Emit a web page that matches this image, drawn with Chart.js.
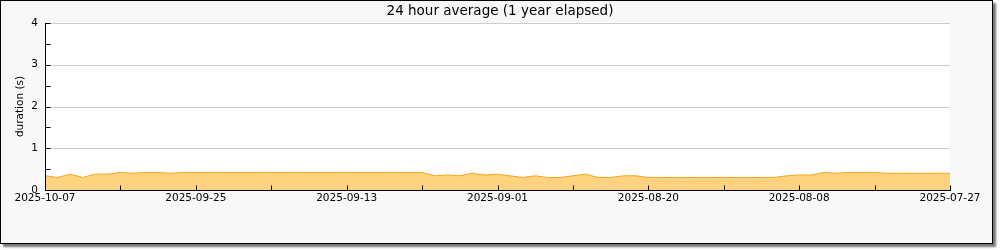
<!DOCTYPE html>
<html>
<head>
<meta charset="utf-8">
<script src="https://cdn.jsdelivr.net/npm/chart.js@4/dist/chart.umd.min.js"></script>
<style>
  body { margin: 0; background: #fff; }
  #frame {
    position: absolute; left: 0; top: 0;
    width: 991px; height: 242px;
    border: 1px solid #000;
    background: #f8f8f8;
    box-shadow: 3px 3px 2px #777;
  }
  #chart { position: absolute; left: 0; top: 0; }
</style>
</head>
<body>
<div id="frame"></div>
<canvas id="chart" width="1000" height="250"></canvas>
<script>
// days elapsed counted back from the first date (left edge)
const tickLabels = ['2025-10-07', '2025-09-25', '2025-09-13', '2025-09-01', '2025-08-20', '2025-08-08', '2025-07-27'];
const yTickLabels = ['0', '1', '2', '3', '4'];

// daily 24 hour average duration (s), one value per day
const durations = [
  0.34, 0.30, 0.38, 0.30, 0.38, 0.38, 0.42, 0.40, 0.42, 0.42,
  0.40, 0.42, 0.42, 0.42, 0.42, 0.42, 0.42, 0.42, 0.42, 0.42,
  0.42, 0.42, 0.42, 0.42, 0.42, 0.42, 0.42, 0.42, 0.42, 0.42,
  0.42, 0.34, 0.36, 0.34, 0.40, 0.36, 0.38, 0.34, 0.30, 0.34,
  0.30, 0.30, 0.34, 0.38, 0.30, 0.30, 0.34, 0.34, 0.30, 0.30,
  0.30, 0.30, 0.30, 0.30, 0.30, 0.30, 0.30, 0.30, 0.30, 0.34,
  0.36, 0.36, 0.42, 0.40, 0.42, 0.42, 0.42, 0.40, 0.40, 0.40,
  0.40, 0.40, 0.40
];

const FONT = 'DejaVu Sans';
Chart.defaults.color = '#000';
Chart.defaults.font.family = FONT;

// white plot area, axis lines and inward tick marks like the original graph
const plotDecor = {
  id: 'plotDecor',
  beforeDatasetsDraw(chart) {
    const { ctx, chartArea: a } = chart;
    ctx.save();
    ctx.fillStyle = '#fff';
    ctx.fillRect(a.left, a.top, a.right - a.left, a.bottom - a.top);
    ctx.strokeStyle = '#ccc';
    ctx.lineWidth = 1;
    const y = chart.scales.y;
    y.ticks.forEach(t => {
      if (t.value > 0 && t.value % 1 === 0) {
        const py = Math.round(y.getPixelForValue(t.value)) + 0.5;
        ctx.beginPath();
        ctx.moveTo(a.left, py);
        ctx.lineTo(a.right, py);
        ctx.stroke();
      }
    });
    ctx.restore();
  },
  afterDatasetsDraw(chart) {
    const { ctx, chartArea: a, scales: { x, y } } = chart;
    ctx.save();
    ctx.strokeStyle = '#000';
    ctx.lineWidth = 1;
    ctx.beginPath();
    const bottom = Math.round(a.bottom) + 0.5;
    const left = Math.round(a.left) + 0.5;
    ctx.moveTo(left, Math.round(a.top));
    ctx.lineTo(left, bottom);
    ctx.lineTo(Math.round(a.right) + 1, bottom);
    x.ticks.forEach(t => {
      const px = Math.round(x.getPixelForValue(t.value)) + 0.5;
      ctx.moveTo(px, bottom);
      ctx.lineTo(px, bottom - 5);
    });
    y.ticks.forEach(t => {
      const py = Math.round(y.getPixelForValue(t.value)) + 0.5;
      ctx.moveTo(left, py);
      ctx.lineTo(left + 5, py);
    });
    ctx.stroke();
    ctx.restore();
  }
};

new Chart(document.getElementById('chart'), {
  type: 'line',
  data: {
    datasets: [{
      label: 'duration',
      data: durations.map((v, i) => ({ x: i, y: v })),
      borderColor: '#f8a51c',
      backgroundColor: '#ffd27f',
      borderWidth: 1,
      pointRadius: 0,
      tension: 0,
      fill: 'origin'
    }]
  },
  options: {
    responsive: false,
    animation: false,
    layout: { padding: 0 },
    plugins: {
      legend: { display: false },
      tooltip: { enabled: false },
      title: {
        display: true,
        text: '24 hour average (1 year elapsed)',
        font: { family: FONT, size: 13.5, weight: 'normal' },
        color: '#000',
        padding: { top: 2.9, bottom: 3.9 }
      }
    },
    scales: {
      x: {
        type: 'linear',
        min: 0,
        max: 72,
        grid: { display: false, drawTicks: false },
        border: { display: false },
        ticks: {
          stepSize: 6,
          autoSkip: false,
          maxRotation: 0,
          padding: 2,
          font: { family: FONT, size: 10.5 },
          callback: v => (v % 12 === 0 ? tickLabels[v / 12] : '')
        },
        afterFit: s => { s.height = 60; }
      },
      y: {
        min: 0,
        max: 4,
        grid: { display: false, drawTicks: false },
        border: { display: false },
        ticks: {
          stepSize: 0.5,
          padding: 7,
          font: { family: FONT, size: 10.5 },
          callback: v => (v % 1 === 0 ? yTickLabels[v] : '')
        },
        title: {
          display: true,
          text: 'duration (s)',
          font: { family: FONT, size: 10.5 },
          padding: { top: 14, bottom: 0 }
        },
        afterFit: s => { s.width = 45; }
      },
      yRight: {
        position: 'right',
        display: true,
        grid: { display: false, drawTicks: false },
        border: { display: false },
        ticks: { display: false },
        afterFit: s => { s.width = 50; }
      }
    }
  },
  plugins: [plotDecor]
});
</script>
</body>
</html>
